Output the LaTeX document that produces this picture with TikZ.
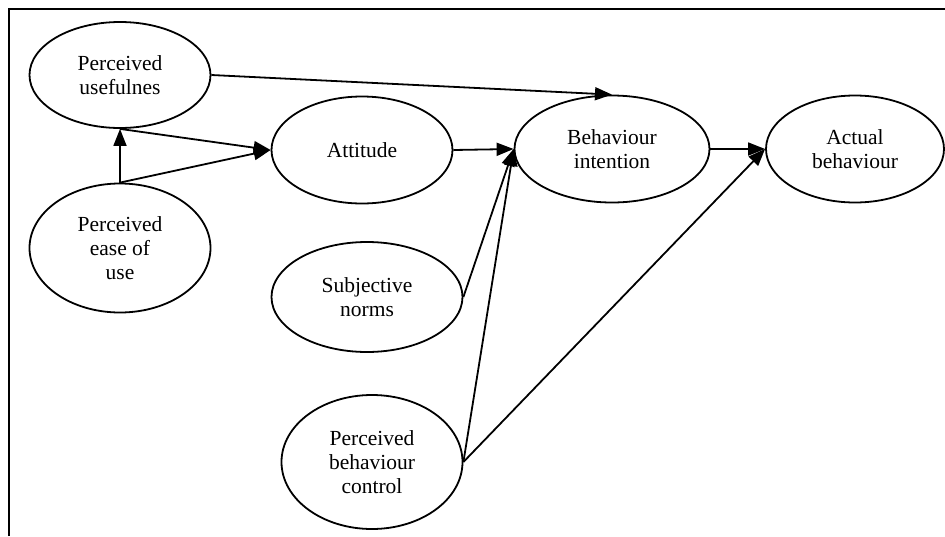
\documentclass[tikz,border=0pt]{standalone}
\usepackage{fontspec}
\setmainfont{Liberation Serif}
\usetikzlibrary{shapes.geometric,arrows.meta}

\begin{document}
\begin{tikzpicture}[x=1pt,y=-1pt,
  construct/.style={draw,ellipse,line width=1.8pt,inner sep=0pt,align=center,
    font=\fontsize{21.5}{24}\selectfont},
  link/.style={line width=1.8pt,-{Triangle[length=17pt,width=13pt]}}]
  \useasboundingbox (0,0) rectangle (945,536);
  % frame around the model (open at right and bottom)
  \draw[line width=1.8pt] (9,536) -- (9,9) -- (945,9);

  % constructs
  \node[construct,minimum width=181pt,minimum height=106pt] (pu)  at (120,75)  {Perceived\\usefulnes};
  \node[construct,minimum width=181pt,minimum height=129pt] (peou) at (120,248) {Perceived\\ease of\\use};
  \node[construct,minimum width=181pt,minimum height=107pt] (att) at (362,150) {Attitude};
  \node[construct,minimum width=195pt,minimum height=107pt] (bi)  at (612,149) {Behaviour\\intention};
  \node[construct,minimum width=178pt,minimum height=107pt] (ab)  at (855,149) {Actual\\behaviour};
  \node[construct,minimum width=191pt,minimum height=110pt] (sn)  at (367,297) {Subjective\\norms};
  \node[construct,minimum width=181pt,minimum height=134pt] (pbc) at (372,462) {Perceived\\behaviour\\control};

  % relations
  \draw[link] (pu.east) -- (bi.north);
  \draw[link] (pu.south) -- (att.west);
  \draw[link] (peou.north) -- (pu.south);
  \draw[link] (peou.north) -- (att.west);
  \draw[link] (att.east) -- (bi.west);
  \draw[link] (sn.east) -- (bi.west);
  \draw[link] (pbc.east) -- (bi.west);
  \draw[link] (pbc.east) -- (ab.west);
  \draw[link] (bi.east) -- (ab.west);
\end{tikzpicture}
\end{document}
